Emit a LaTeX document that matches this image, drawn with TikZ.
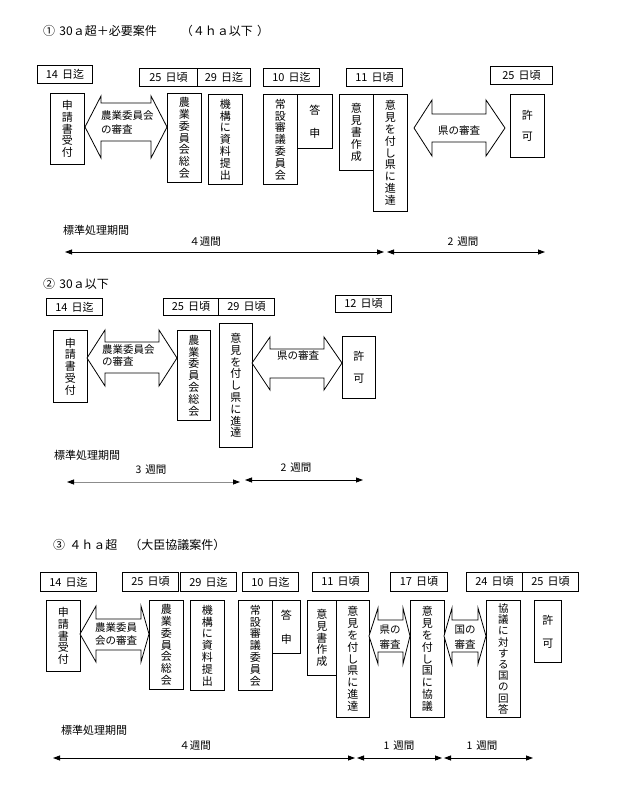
\documentclass[tikz,border=0pt]{standalone}
\usepackage{fontspec}
\newfontfamily\jp[WordSpace=1.6]{Noto Sans CJK JP}
\usetikzlibrary{arrows.meta}

\begin{document}
\begin{tikzpicture}[x=1pt, y=-1pt,
 day/.style={draw, line width=0.9pt, anchor=north west, inner sep=0pt, minimum width=56pt, minimum height=18pt, font=\jp\fontsize{11}{12}\selectfont},
 col/.style={draw, line width=0.9pt, anchor=north west, inner sep=0pt, minimum width=34pt, align=center, font=\jp\fontsize{11}{11.8}\selectfont},
 dbl/.style={draw, line width=0.8pt, line join=miter, fill=white},
 lbl/.style={inner sep=0pt, align=left, font=\jp\fontsize{10.5}{14}\selectfont},
 head/.style={anchor=west, inner sep=0pt, font=\jp\fontsize{12}{13}\selectfont},
 wk/.style={<->, >={Triangle[length=7pt,width=5pt]}, line width=0.8pt}]
\useasboundingbox (0,0) rectangle (636,792);

% (1) 30a超
\node[head] (h1) at (43,31) {① 30ａ超＋必要案件　　（４ｈａ以下 ）};
\node[day, minimum width=55pt] (d11) at (37,65) {14 日迄};
\node[day, minimum width=58pt] (d12) at (139,68) {25 日頃};
\node[day, minimum width=53pt] (d13) at (197,68) {29 日迄};
\node[day] (d14) at (263,68) {10 日迄};
\node[day] (d15) at (346,68) {11 日頃};
\node[day, minimum width=62pt] (d16) at (490,66) {25 日頃};
\node[col, minimum height=71pt] (b11) at (50,93) {申\\請\\書\\受\\付};
\node[col, minimum height=89pt] (b12) at (167,93) {農\\業\\委\\員\\会\\総\\会};
\node[col, minimum height=90pt] (b13) at (208,94) {機\\構\\に\\資\\料\\提\\出};
\node[col, minimum height=90pt] (b14) at (263,94) {常\\設\\審\\議\\委\\員\\会};
\node[col, minimum width=35pt, minimum height=54pt] (b15) at (297,94) {答\\[11pt]申};
\node[col, minimum height=76pt] (b16) at (339,94) {意\\見\\書\\作\\成};
\node[col, minimum height=117pt] (b17) at (373,94) {意\\見\\を\\付\\し\\県\\に\\進\\達};
\node[col, minimum height=63pt] (b18) at (510,94) {許\\[9pt]可};
\draw[dbl] (85,127) -- (101,96) -- (101,103) -- (151,103) -- (151,96) -- (167,127) -- (151,158) -- (151,141) -- (101,141) -- (101,158) -- cycle;
\node[lbl, anchor=north west] (r11) at (101,110) {農業委員会\\の審査};
\draw[dbl] (414,128) -- (432,100) -- (432,114) -- (486,114) -- (486,100) -- (505,128) -- (486,156) -- (486,142) -- (432,142) -- (432,156) -- cycle;
\node[lbl] (r12) at (459,131) {県の審査};
\node[lbl, font=\jp\fontsize{11}{13}\selectfont] (p1) at (96,230) {標準処理期間};
\node[lbl] (w11) at (205,242) {４週間};
\node[lbl] (w12) at (463,242) {2 週間};
\coordinate (t10) at (65,252);
\coordinate (t11) at (384,252);
\coordinate (t12) at (387,252);
\coordinate (t13) at (545,252);
\draw[wk] (t10) -- (t11);
\draw[wk] (t12) -- (t13);

% (2) 30a以下
\node[head] (h2) at (43,284) {② 30ａ以下};
\node[day, minimum height=17pt] (d21) at (46,298) {14 日迄};
\node[day, minimum width=55pt, minimum height=17pt] (d22) at (163,298) {25 日頃};
\node[day, minimum height=17pt] (d23) at (218,298) {29 日頃};
\node[day, minimum height=17pt] (d24) at (335,295) {12 日頃};
\node[col, minimum height=72pt] (b21) at (53,330) {申\\請\\書\\受\\付};
\node[col, minimum width=33pt, minimum height=90pt] (b22) at (177,330) {農\\業\\委\\員\\会\\総\\会};
\node[col, minimum width=33pt, minimum height=124pt] (b23) at (219,323) {意\\見\\を\\付\\し\\県\\に\\進\\達};
\node[col, minimum width=33pt, minimum height=62pt] (b24) at (342,336) {許\\[10pt]可};
\draw[dbl] (87,358) -- (105,330) -- (105,342) -- (159,342) -- (159,330) -- (177,358) -- (159,386) -- (159,373) -- (105,373) -- (105,386) -- cycle;
\node[lbl, anchor=north west, font=\jp\fontsize{10.5}{12.5}\selectfont] (r21) at (102,344) {農業委員会\\の審査};
\draw[dbl] (252,363) -- (270,337) -- (270,349) -- (324,349) -- (324,337) -- (342,363) -- (324,390) -- (324,378) -- (270,378) -- (270,390) -- cycle;
\node[lbl] (r22) at (298,356) {県の審査};
\node[lbl, font=\jp\fontsize{11}{13}\selectfont] (p2) at (87,455) {標準処理期間};
\node[lbl] (w21) at (151,470) {3 週間};
\node[lbl] (w22) at (296,468) {2 週間};
\coordinate (t20) at (67,482);
\coordinate (t21) at (240,482);
\coordinate (t22) at (245,480);
\coordinate (t23) at (363,480);
\draw[wk, draw=black!45, >={Triangle[length=7pt,width=5pt,color=black]}] (t20) -- (t21);
\draw[wk] (t22) -- (t23);

% (3) 4ha超
\node[head] (h3) at (53,545) {③ ４ｈａ超　（大臣協議案件）};
\node[day, minimum height=19pt] (d31) at (40,572) {14 日迄};
\node[day, minimum height=19pt] (d32) at (122,572) {25 日頃};
\node[day, minimum height=19pt] (d33) at (180,572) {29 日迄};
\node[day, minimum height=19pt] (d34) at (242,572) {10 日迄};
\node[day, minimum height=19pt] (d35) at (312,572) {11 日頃};
\node[day, minimum width=57pt, minimum height=19pt] (d36) at (390,572) {17 日頃};
\node[day, minimum height=19pt] (d37) at (466,572) {24 日頃};
\node[day, minimum height=19pt] (d38) at (522,572) {25 日頃};
\node[col, minimum height=71pt] (b31) at (46,600) {申\\請\\書\\受\\付};
\node[col, minimum height=89pt] (b32) at (149,600) {農\\業\\委\\員\\会\\総\\会};
\node[col, minimum height=90pt] (b33) at (190,600) {機\\構\\に\\資\\料\\提\\出};
\node[col, minimum height=90pt] (b34) at (238,600) {常\\設\\審\\議\\委\\員\\会};
\node[col, minimum width=28pt, minimum height=53pt] (b35) at (272,600) {答\\[12pt]申};
\node[col, minimum width=29pt, minimum height=75pt] (b36) at (307,600) {意\\見\\書\\作\\成};
\node[col, minimum width=33pt, minimum height=117pt] (b37) at (336,600) {意\\見\\を\\付\\し\\県\\に\\進\\達};
\node[col, minimum height=117pt] (b38) at (410,600) {意\\見\\を\\付\\し\\国\\に\\協\\議};
\node[col, minimum height=117pt, font=\jp\fontsize{10.5}{11.2}\selectfont] (b39) at (486,600) {協\\議\\に\\対\\す\\る\\国\\の\\回\\答};
\node[col, minimum width=27pt, minimum height=62pt] (b3a) at (534,600) {許\\[11pt]可};
\draw[dbl] (80,634) -- (96,606) -- (96,619) -- (141,619) -- (141,606) -- (149,634) -- (141,662) -- (141,650) -- (96,650) -- (96,662) -- cycle;
\node[lbl, align=center, font=\jp\fontsize{10.5}{13}\selectfont] (r31) at (116,634) {農業委員\\会の審査};
\draw[dbl] (369,636) -- (378,608) -- (378,620) -- (403,620) -- (403,608) -- (410,636) -- (403,664) -- (403,652) -- (378,652) -- (378,664) -- cycle;
\node[lbl, align=center, font=\jp\fontsize{10.5}{15}\selectfont] (r32) at (390,637) {県の\\審査};
\draw[dbl] (444,636) -- (452,608) -- (452,620) -- (478,620) -- (478,608) -- (486,636) -- (478,664) -- (478,652) -- (452,652) -- (452,664) -- cycle;
\node[lbl, align=center, font=\jp\fontsize{10.5}{15}\selectfont] (r33) at (465,637) {国の\\審査};
\node[lbl, font=\jp\fontsize{11}{13}\selectfont] (p3) at (94,730) {標準処理期間};
\node[lbl] (w31) at (195,746) {４週間};
\node[lbl] (w32) at (399,746) {1 週間};
\node[lbl] (w33) at (482,746) {1 週間};
\coordinate (t30) at (53,758);
\coordinate (t31) at (355,758);
\coordinate (t32) at (357,758);
\coordinate (t33) at (442,758);
\coordinate (t34) at (444,758);
\coordinate (t35) at (533,758);
\draw[wk] (t30) -- (t31);
\draw[wk] (t32) -- (t33);
\draw[wk] (t34) -- (t35);
\end{tikzpicture}
\end{document}
